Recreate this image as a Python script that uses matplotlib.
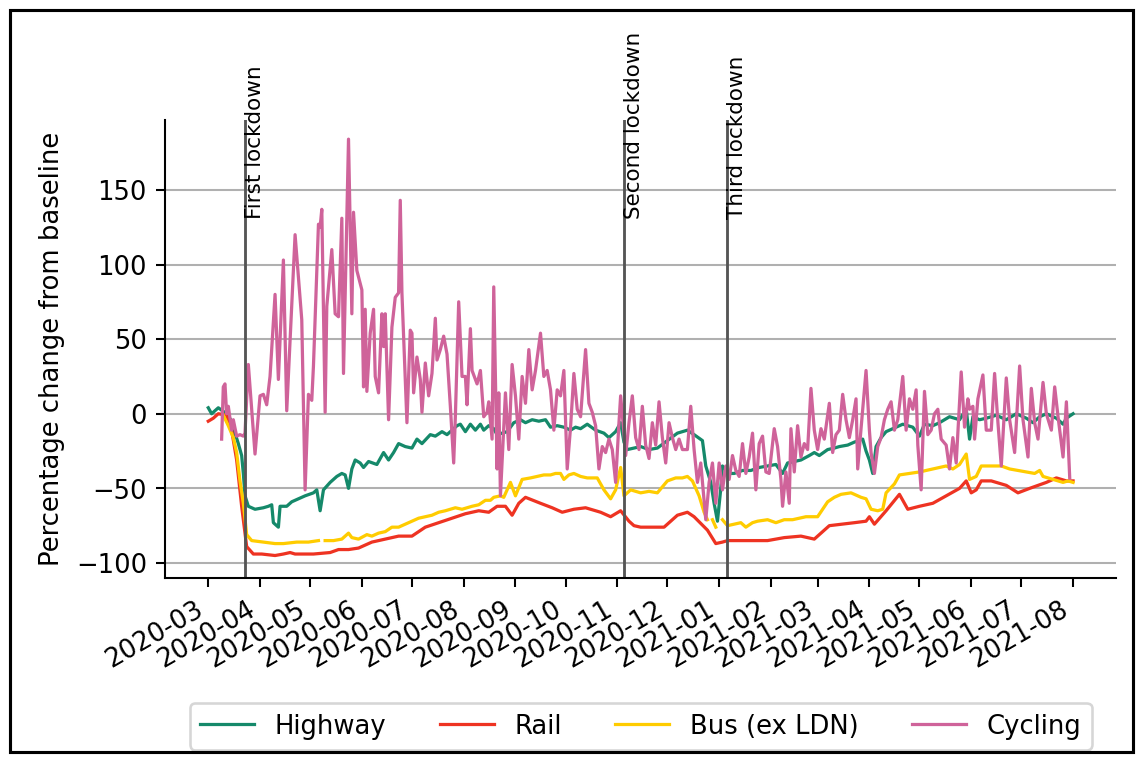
import numpy as np
import pandas as pd
import matplotlib
matplotlib.use("Agg")
import matplotlib.pyplot as plt
import matplotlib.dates as mdates
from matplotlib.patches import Rectangle

# Day offsets are counted from this date
start_date = "2020-03-01"

highway_day = [0, 2, 6, 11, 14, 16, 18, 20, 21, 22, 24, 28, 33, 36, 38, 39, 42, 43, 47, 50,
               54, 58, 63, 65, 67, 69, 73, 77, 80, 82, 84, 86, 88, 91, 93, 96, 101, 105, 108, 111,
               114, 118, 122, 125, 128, 133, 136, 140, 143, 146, 149, 151, 154, 157, 160, 163, 165, 168, 171, 173,
               176, 179, 183, 187, 190, 194, 198, 202, 205, 209, 213, 217, 220, 223, 227, 232, 237, 240, 244, 247,
               249, 251, 255, 259, 264, 269, 275, 281, 287, 291, 296, 298, 301, 303, 305, 307, 308, 312, 315, 320,
               325, 330, 335, 340, 344, 347, 351, 355, 360, 363, 366, 371, 375, 378, 383, 387, 392, 394, 396, 398,
               400, 403, 406, 410, 416, 422, 426, 429, 434, 438, 444, 450, 454, 456, 458, 462, 466, 472, 478, 484,
               490, 494, 498, 502, 508, 512, 514, 518]
highway_val = [4, 0, 4, 0, -5, -13, -20, -28, -40, -55, -62, -64, -63, -62, -61, -73, -76, -62, -62, -59,
               -57, -55, -53, -51, -65, -51, -46, -42, -40, -41, -50, -37, -31, -33, -36, -32, -34, -26, -31, -26,
               -20, -22, -23, -17, -20, -14, -15, -12, -14, -11, -8, -7, -12, -7, -11, -7, -11, -8, -10, -14,
               -13, -12, -6, -4, -6, -4, -5, -4, -9, -8, -9, -11, -9, -10, -7, -11, -13, -16, -12, -6,
               -19, -24, -23, -22, -24, -23, -18, -13, -11, -14, -18, -35, -46, -60, -72, -50, -35, -40, -40, -38,
               -38, -36, -35, -34, -40, -33, -32, -31, -28, -26, -28, -24, -23, -22, -21, -19, -17, -25, -31, -40,
               -22, -16, -12, -10, -7, -9, -15, -7, -8, -6, -2, -4, 3, -17, -2, -4, -3, -1, -4, 0,
               -3, -6, -2, 0, -3, -7, -3, 0]

rail_day = [0, 3, 6, 11, 14, 17, 20, 23, 27, 32, 40, 45, 49, 52, 63, 73, 78, 84, 90, 98,
            106, 114, 122, 130, 138, 146, 154, 162, 168, 173, 178, 182, 186, 190, 199, 206, 212, 219, 226, 235,
            241, 247, 252, 255, 259, 273, 281, 287, 291, 299, 304, 308, 311, 335, 345, 355, 363, 372, 387, 394,
            396, 399, 406, 414, 419, 426, 434, 442, 450, 454, 457, 460, 463, 469, 478, 485, 492, 502, 508, 514,
            518]
rail_val = [-5, -3, 0, -1, -11, -31, -62, -89, -94, -94, -95, -94, -93, -94, -94, -93, -91, -91, -90, -86,
            -84, -82, -82, -76, -73, -70, -67, -65, -66, -62, -62, -68, -60, -56, -60, -63, -66, -64, -63, -66,
            -69, -65, -72, -75, -76, -76, -68, -66, -69, -78, -87, -86, -85, -85, -83, -82, -84, -75, -73, -72,
            -69, -74, -65, -54, -64, -62, -60, -55, -50, -45, -53, -51, -45, -45, -48, -53, -50, -46, -43, -45,
            -45]

nan = float("nan")
bus_day = [9, 12, 15, 17, 19, 21, 23, 26, 33, 40, 45, 53, 60, 66, 67, 70, 75, 80, 84, 86,
           90, 95, 98, 102, 106, 110, 114, 118, 122, 126, 130, 134, 138, 142, 148, 152, 158, 162, 166, 169,
           171, 175, 177, 181, 184, 188, 193, 197, 201, 205, 208, 211, 213, 216, 219, 223, 227, 233, 237, 241,
           244, 247, 249, 253, 256, 259, 264, 269, 272, 275, 280, 284, 287, 290, 294, 297, 299, 300, 302, 304,
           305, 308, 311, 315, 319, 322, 326, 329, 335, 340, 345, 350, 358, 365, 371, 375, 379, 385, 391, 394,
           397, 401, 404, 406, 411, 414, 420, 426, 434, 442, 446, 450, 454, 456, 460, 463, 469, 475, 480, 490,
           495, 498, 500, 506, 512, 515, 518]
bus_val = [-1, -8, -16, -26, -45, -60, -81, -85, -86, -87, -87, -86, -86, -85, nan, -85, -85, -84, -80, -83,
           -84, -81, -82, -80, -79, -76, -76, -74, -72, -70, -69, -68, -66, -65, -63, -64, -62, -61, -58, -58,
           -56, -55, -56, -46, -55, -44, -43, -42, -41, -41, -40, -40, -44, -41, -40, -42, -43, -43, -51, -57,
           -51, -36, -55, -51, -52, -53, -52, -53, -49, -45, -43, -43, -42, -45, -55, -66, -71, nan, -71, -76,
           nan, -71, -75, -74, -73, -76, -73, -72, -71, -73, -71, -71, -69, -69, -59, -56, -54, -53, -56, -57,
           -64, -65, -64, -53, -47, -41, -40, -39, -37, -35, -37, -34, -27, -44, -42, -35, -35, -35, -37, -39,
           -40, -38, -42, -44, -46, -45, -46]

cycling_day = [8, 9, 10, 11, 12, 14, 15, 17, 19, 21, 22, 24, 26, 28, 31, 33, 35, 37, 40, 42,
               45, 47, 49, 52, 56, 58, 60, 62, 63, 66, 67, 68, 70, 71, 74, 76, 78, 80, 81, 84,
               86, 87, 89, 92, 93, 94, 95, 97, 99, 100, 102, 104, 105, 106, 108, 110, 112, 114, 115, 116,
               119, 121, 122, 123, 125, 127, 128, 130, 132, 134, 136, 137, 139, 141, 143, 145, 147, 148, 150, 152,
               154, 155, 157, 158, 161, 163, 165, 167, 168, 170, 171, 173, 174, 175, 178, 180, 182, 184, 186, 188,
               190, 192, 194, 196, 199, 201, 203, 205, 207, 209, 211, 213, 215, 217, 219, 221, 223, 226, 228, 230,
               232, 234, 236, 238, 240, 242, 244, 246, 247, 249, 250, 252, 254, 256, 258, 260, 262, 264, 266, 268,
               270, 272, 274, 276, 278, 280, 282, 284, 287, 289, 291, 293, 295, 298, 300, 302, 304, 306, 308, 310,
               312, 314, 316, 318, 320, 322, 324, 326, 328, 330, 332, 334, 336, 339, 341, 343, 344, 346, 348, 349,
               351, 353, 355, 357, 359, 361, 363, 365, 367, 369, 372, 374, 376, 378, 380, 382, 384, 386, 388, 389,
               391, 394, 396, 397, 399, 401, 403, 405, 407, 409, 411, 413, 416, 418, 420, 422, 424, 425, 427, 429,
               431, 433, 435, 437, 439, 442, 444, 446, 448, 451, 453, 455, 456, 458, 459, 461, 464, 466, 469, 471,
               473, 475, 478, 480, 483, 486, 488, 491, 493, 495, 497, 500, 502, 505, 507, 509, 512, 514, 516]
cycling_val = [-17, 18, 20, 0, 5, -11, -4, -15, -14, -15, -13, 33, 3, -27, 12, 13, 6, 25, 80, 23,
               103, 2, 49, 120, 63, -51, 13, 9, 32, 127, 125, 137, 1, 72, 110, 67, 65, 131, 27, 184,
               67, 135, 96, 83, 18, 70, 15, 54, 70, 25, 14, 67, 45, 67, -4, 58, 78, 81, 143, 81,
               -6, 56, 54, 14, 38, 23, 1, 34, 12, 27, 64, 36, 43, 52, 40, 5, -33, -2, 75, 25,
               25, 6, 57, 29, 20, 29, -2, 1, 8, -17, 85, -37, 14, -55, 14, -24, 33, 12, -17, 25,
               7, 43, 16, 29, 54, 25, 29, 16, -11, 16, 12, 29, -37, -9, 27, 3, -2, 43, 7, 1,
               -8, -37, -22, -26, -17, -24, -46, -6, 12, -13, -28, -6, 12, -16, -24, 5, -21, -30, -6, -21,
               8, -16, -33, -6, -16, -24, -17, -24, -24, 5, -24, -46, -33, -71, -46, -33, -60, -33, -51, -35,
               -44, -28, -38, -42, -20, -40, -29, -13, -51, -20, -15, -39, -40, -10, -22, -44, -62, -39, -60, -10,
               -39, -8, -29, -20, -24, 17, -11, -24, -10, -17, 7, -26, -14, -11, 13, -4, -16, -4, 10, -37,
               -10, 29, -11, -26, -40, -22, -16, -4, 3, 8, -11, -4, 25, -11, 10, 3, 16, -21, -51, 15,
               -14, -11, 0, 3, -17, -21, -37, -16, -33, 28, -9, 10, 3, 5, -17, 10, 26, -11, -11, 27,
               -6, -35, 24, -4, -26, 32, -4, -29, 17, -6, -17, 21, 0, -11, 18, -2, -29, 8, -43]

series_names = ["Highway", "Rail", "Bus (ex LDN)", "Cycling"]
series_colors = ["#15896a", "#ee3322", "#ffcc00", "#cf639a"]

lockdown_dates = ["2020-03-23", "2020-11-05", "2021-01-06"]
lockdown_labels = ["First lockdown", "Second lockdown", "Third lockdown"]

y_label = "Percentage change from baseline"


def to_dates(days):
    return pd.Timestamp(start_date) + pd.to_timedelta(np.asarray(days), unit="D")


series = [
    (highway_day, highway_val),
    (rail_day, rail_val),
    (bus_day, bus_val),
    (cycling_day, cycling_val),
]

DPI = 186
fig = plt.figure(figsize=(1141.3 / DPI, 762.3 / DPI), dpi=DPI)
ax = fig.add_axes([0.1446, 0.2415, 0.8335, 0.601])

for (days, vals), name, color in zip(series, series_names, series_colors):
    ax.plot(to_dates(days), vals, color=color, lw=1.25, label=name)

for date, label in zip(lockdown_dates, lockdown_labels):
    d = pd.Timestamp(date)
    ax.axvline(d, color="#555555", lw=1.1)
    ax.text(d, 131, label, rotation=90, ha="left", va="bottom", fontsize="small")

ax.set_ylim(-110, 197)
ax.set_yticks([-100, -50, 0, 50, 100, 150])
ax.yaxis.grid(True, color="#b0b0b0", lw=0.8)
ax.set_axisbelow(True)
ax.set_ylabel(y_label)

ax.xaxis.set_major_locator(mdates.MonthLocator())
ax.xaxis.set_major_formatter(mdates.DateFormatter("%Y-%m"))
for lbl in ax.get_xticklabels():
    lbl.set_rotation(30)
    lbl.set_ha("right")

ax.spines["top"].set_visible(False)
ax.spines["right"].set_visible(False)

fig.legend(loc="upper center", ncol=4, bbox_to_anchor=(0.5613, 1 - 703 / 762),
           bbox_transform=fig.transFigure, borderaxespad=0,
           handlelength=2.1, columnspacing=2.05)

fig.patches.append(Rectangle((10 / 1141, 10 / 762), 1123 / 1141, 742 / 762,
                             transform=fig.transFigure, fill=False, edgecolor="black",
                             lw=1.2, zorder=10))

fig.savefig("out.png", dpi=DPI)
